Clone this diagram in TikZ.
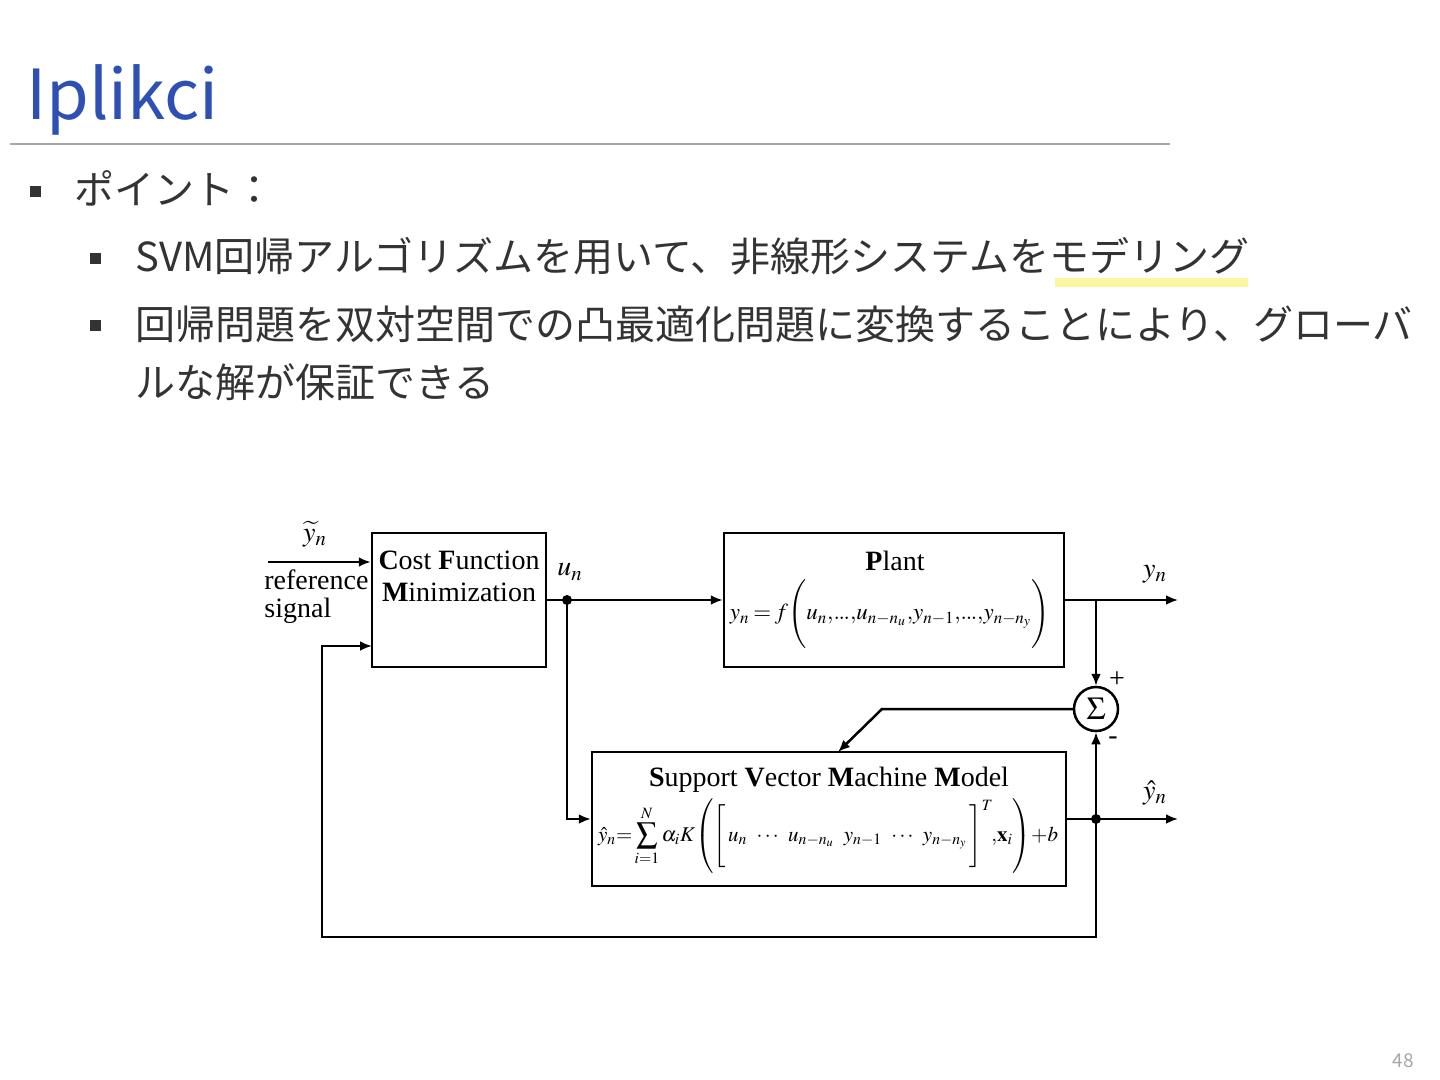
\documentclass[tikz,border=0pt]{standalone}
\usepackage{amsmath}
\usepackage{graphicx}
\usepackage{mathptmx}
\usepackage[no-math]{fontspec}
\setmainfont{Noto Sans CJK JP}
\newfontfamily\tms{Liberation Serif}
\usetikzlibrary{arrows.meta}
\definecolor{titleblue}{HTML}{2E50B4}
\definecolor{txt}{HTML}{333333}
\definecolor{hl}{HTML}{FBF7A0}
\newcommand{\tdots}{.\mkern-1mu.\mkern-1mu.}
\tikzset{
  jp/.style={anchor=base west, inner sep=0pt, text=txt, font=\fontsize{20}{24}\selectfont},
  bul/.style={fill=txt},
  blk/.style={draw, line width=1.25pt, inner sep=0pt},
  dtxt/.style={inner sep=0pt, font=\tms\fontsize{14}{16}\selectfont},
  mlab/.style={inner sep=0pt, font=\fontsize{14}{16}\selectfont},
  arr/.style={line width=1.25pt, -{Latex[length=6pt,width=5pt]}},
}
\begin{document}
\begin{tikzpicture}[x=0.5pt,y=-0.5pt]
\useasboundingbox (0,0) rectangle (1440,1080);
% header
\node[anchor=base west, inner sep=0pt, text=titleblue, font=\fontsize{34.5}{40}\selectfont] (title) at (26,120) {Iplikci};
\draw[gray!70, line width=0.6pt] (10,144) -- (1170,144);
% bullets
\fill[bul] (30,186) rectangle (41,197);
\node[jp] (b1) at (74,205) {ポイント：};
\fill[hl] (1055,278) rectangle (1248,287);
\fill[bul] (90,253) rectangle (101,264);
\node[jp] (b2) at (135,272) {SVM回帰アルゴリズムを用いて、非線形システムをモデリング};
\fill[bul] (90,320) rectangle (101,331);
\node[jp] (b3) at (135,340) {回帰問題を双対空間での凸最適化問題に変換することにより、グローバ};
\node[jp] (b3b) at (135,398) {ルな解が保証できる};
\node[anchor=base east, inner sep=0pt, text=gray!70, font=\fontsize{9.5}{11}\selectfont] (pg) at (1414,1067) {48};
% blocks
\node[blk, minimum width=87pt, minimum height=67pt] (cost) at (459,600) {};
\node[blk, minimum width=170pt, minimum height=67pt] (plant) at (894,600) {};
\node[blk, minimum width=237pt, minimum height=67pt] (svm) at (829,819) {};
\node[draw, circle, line width=1.25pt, minimum size=22pt, inner sep=0pt] (sig) at (1096,709) {};
\node[inner sep=0pt, font=\fontsize{16}{18}\selectfont] (sigl) at (sig) {$\Sigma$};
% block texts
\node[dtxt] (costt1) at (459,560) {\textbf{C}ost \textbf{F}unction};
\node[dtxt] (costt2) at (459,592) {\textbf{M}inimization};
\node[dtxt] (plantt) at (895,561) {\textbf{P}lant};
\node[inner sep=0pt, font=\fontsize{13}{15}\selectfont] (plante) at (890,614)
  {\resizebox{160pt}{!}{$y_n\mkern-1mu=\mkern-1mu f\mkern-2mu\left(\vphantom{\Bigg|}u_n{,}\tdots{,}u_{n-n_u}{,}y_{n-1}{,}\tdots{,}y_{n-n_y}\right)$}};
\node[dtxt] (svmt) at (829,780) {\textbf{S}upport \textbf{V}ector \textbf{M}achine \textbf{M}odel};
\node[inner sep=0pt, font=\fontsize{12}{14}\selectfont] (svme) at (828,836)
  {\resizebox{230pt}{!}{$\hat{y}_n {=} \displaystyle\sum_{i=1}^{N}\alpha_i K\!\left(\left[\vphantom{\Bigg|}\,u_n\ \,\cdots\ \,u_{n-n_u}\ \ y_{n-1}\ \,\cdots\ \,y_{n-n_y}\,\right]^T\!\!{,}\mathbf{x}_i\right)\!{+}b$}};
% labels
\node[mlab] (ytl) at (315,534) {$\widetilde{y}_n$};
\node[dtxt, anchor=west] (ref1) at (264,580) {reference};
\node[dtxt, anchor=west] (ref2) at (264,611) {signal};
\node[mlab] (unl) at (570,572) {$u_n$};
\node[mlab] (ynl) at (1155,574) {$y_n$};
\node[mlab] (yhl) at (1155,793) {$\hat{y}_n$};
\node[dtxt] (plus) at (1117,680) {+};
\node[dtxt] (minus) at (1113,741) {-};
% connectors
\coordinate (inS) at (268,562);
\draw[arr] (inS) -- (inS -| cost.west);
\draw[arr] (cost.east) -- (plant.west);
\coordinate (ju) at (567,600);
\fill (ju) circle (2.5pt);
\draw[arr] (ju) |- (svm.west);
\coordinate (yout) at (1178,600);
\draw[arr] (plant.east) -- (yout);
\coordinate (jy) at (1096,600);
\draw[arr] (jy) -- (sig.north);
\coordinate (bend) at (882,709);
\coordinate (svmin) at (838,752);
\draw[arr] (sig.west) -- (bend) -- (svmin);
\coordinate (yhout) at (1178,819);
\draw[arr] (svm.east) -- (yhout);
\coordinate (jh) at (1096,819);
\fill (jh) circle (2.5pt);
\draw[arr] (jh) -- (sig.south);
\coordinate (fb1) at (1096,937);
\coordinate (fb2) at (322,937);
\coordinate (fbin) at (372,646);
\draw[arr] (jh) -- (fb1) -- (fb2) |- (fbin);
\end{tikzpicture}
\end{document}
